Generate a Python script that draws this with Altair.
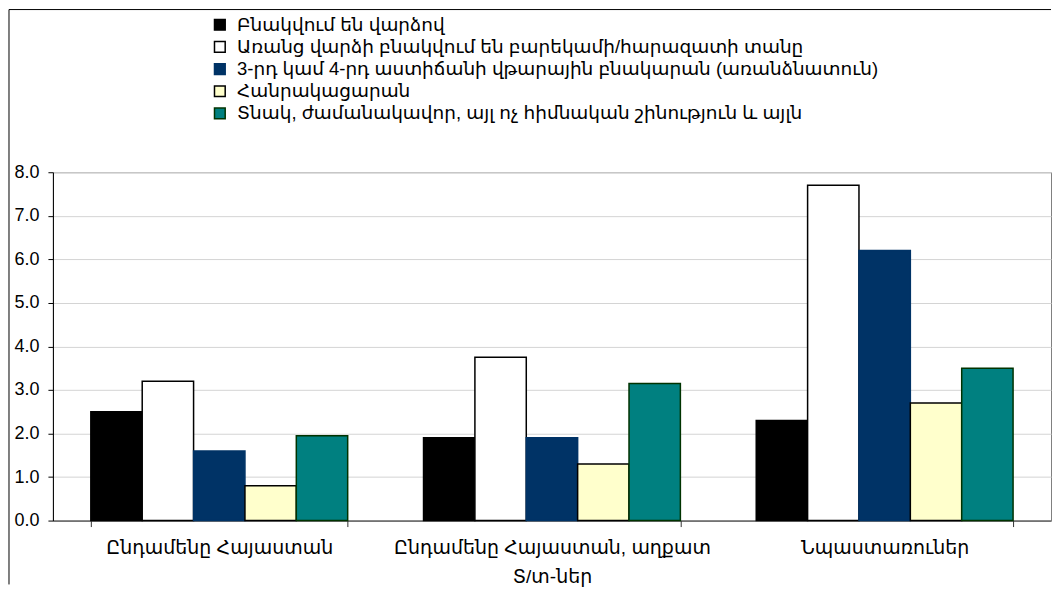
import altair as alt
import pandas as pd

categories = ["Ընդամենը Հայաստան", "Ընդամենը Հայաստան, աղքատ Տ/տ-ներ", "Նպաստառուներ"]
series = [
    "Բնակվում են վարձով",
    "Առանց վարձի բնակվում են բարեկամի/հարազատի տանը",
    "3-րդ կամ 4-րդ աստիճանի վթարային բնակարան (առանձնատուն)",
    "Հանրակացարան",
    "Տնակ, ժամանակավոր, այլ ոչ հիմնական շինություն և այլն",
]
renting = [2.5, 1.9, 2.3]
relatives = [3.2, 3.75, 7.7]
emergency = [1.6, 1.9, 6.2]
dormitory = [0.8, 1.3, 2.7]
hut = [1.95, 3.15, 3.5]
y_ticks = [0, 1, 2, 3, 4, 5, 6, 7, 8]

fills = ["#000000", "#ffffff", "#003366", "#ffffcc", "#008080"]
strokes = ["#000000", "#000000", "#003366", "#000000", "#003300"]

rows = []
for s, vals in zip(series, [renting, relatives, emergency, dormitory, hut]):
    for c, v in zip(categories, vals):
        rows.append({"category": c, "series": s, "value": v})
df = pd.DataFrame(rows)

W, H = 1000, 349
FONT = "Liberation Sans, DejaVu Sans, sans-serif"

label_expr = (
    f"datum.value == '{categories[1]}' ? ['Ընդամենը Հայաստան, աղքատ', 'Տ/տ-ներ'] : datum.value"
)

legend_cfg = dict(
    title=None,
    orient="none",
    legendX=158,
    legendY=-157,
    symbolType="square",
    symbolSize=115,
    symbolStrokeWidth=1.5,
    labelFontSize=18.5,
    labelFont=FONT,
    labelColor="#000000",
    labelLimit=1000,
    labelOffset=8,
    rowPadding=3.2,
)

bars = alt.Chart(df).mark_bar(strokeWidth=1.5).encode(
    x=alt.X(
        "category:N",
        sort=categories,
        scale=alt.Scale(paddingInner=0.228, paddingOuter=0.114),
        axis=alt.Axis(
            title=None,
            labelAngle=0,
            tickBand="extent",
            grid=False,
            labelFontSize=19,
            labelLineHeight=29,
            labelPadding=12,
            tickSize=6,
            labelColor="#000000",
            domainColor="#333333",
            tickColor="#333333",
            labelExpr=label_expr,
            labelFont=FONT,
            labelLimit=1000,
        ),
    ),
    xOffset=alt.XOffset("series:N", sort=series, scale=alt.Scale(paddingInner=0, paddingOuter=0)),
    y=alt.Y(
        "value:Q",
        scale=alt.Scale(domain=[0, 8], nice=False),
        axis=alt.Axis(
            title=None,
            values=y_ticks,
            format=".1f",
            labelFontSize=18,
            labelFont=FONT,
            labelColor="#000000",
            domainColor="#000000",
            tickColor="#000000",
            tickSize=5,
            labelPadding=9,
            gridColor="#d4d4d4",
            gridWidth=1,
        ),
    ),
    fill=alt.Fill(
        "series:N",
        sort=series,
        scale=alt.Scale(domain=series, range=fills),
        legend=alt.Legend(**legend_cfg),
    ),
    stroke=alt.Stroke(
        "series:N",
        sort=series,
        scale=alt.Scale(domain=series, range=strokes),
        legend=alt.Legend(**legend_cfg),
    ),
)

frame_left = alt.Chart(pd.DataFrame({"k": [0]})).mark_rule(color="#000000", strokeWidth=1).encode(
    x=alt.value(-44), y=alt.value(-163), y2=alt.value(H + 64)
)
frame_top = alt.Chart(pd.DataFrame({"k": [0]})).mark_rule(color="#000000", strokeWidth=1).encode(
    x=alt.value(-44), x2=alt.value(W), y=alt.value(-163)
)

chart = (
    alt.layer(bars, frame_left, frame_top)
    .properties(width=W, height=H, padding=0, background="#ffffff")
    .configure_view(stroke="#808080", strokeWidth=1)
)

chart.save("out.html", embed_options={"renderer": "svg", "actions": False})
